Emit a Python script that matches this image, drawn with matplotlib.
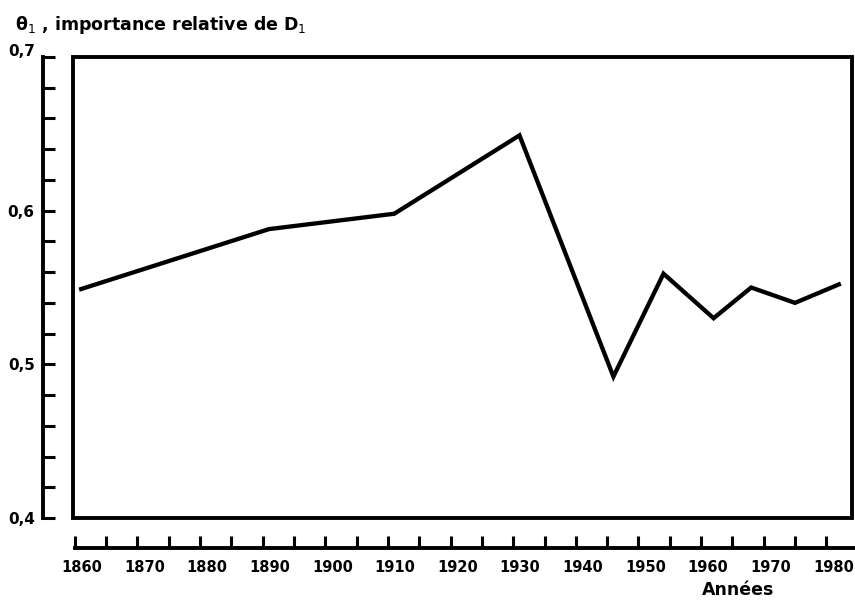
import numpy as np
import matplotlib
matplotlib.use("Agg")
from matplotlib import pyplot as plt
from matplotlib.patches import Rectangle
from matplotlib.transforms import ScaledTranslation

# recensements
annees = [1861, 1891, 1911, 1931, 1946, 1954, 1962, 1968, 1975, 1982]
theta1 = [0.549, 0.588, 0.598, 0.649, 0.492, 0.559, 0.530, 0.550, 0.540, 0.552]

xticks = [1860, 1870, 1880, 1890, 1900, 1910, 1920, 1930, 1940, 1950, 1960, 1970, 1980]
yticks = [0.4, 0.5, 0.6, 0.7]
ylabels = ["0,4", "0,5", "0,6", "0,7"]

plt.rcParams['font.family'] = ['DejaVu Sans']

fig = plt.figure(figsize=(8.55, 6.0), dpi=100)
ax = fig.add_axes([73/855, 1-518/600, (852-73)/855, (518-57)/600])

ax.plot(annees, theta1, color='black', lw=3.1, solid_joinstyle='miter')
ax.set_xlim(1859.7, 1984.1)
ax.set_ylim(0.4, 0.7)

# cadre
ax.add_patch(Rectangle((0, 0), 1, 1, transform=ax.transAxes, fill=False,
                       lw=2.8, ec='black', clip_on=False))

for s in ['top', 'right']:
    ax.spines[s].set_visible(False)
ax.spines['left'].set_position(('outward', 21.6))
ax.spines['bottom'].set_position(('outward', 21.6))
ax.spines['left'].set_linewidth(2.8)
ax.spines['bottom'].set_linewidth(2.8)
ax.spines['bottom'].set_bounds(1860, 1984.5)

ax.set_xticks(xticks)
ax.set_xticks(np.arange(1865, 1985, 10), minor=True)
ax.set_yticks(yticks)
ax.set_yticklabels(ylabels)
ax.set_yticks(np.arange(0.42, 0.7, 0.02), minor=True)

ax.tick_params(axis='both', which='both', direction='in', length=8.5, width=2.2)
ax.tick_params(axis='x', labelsize=10.5, pad=9)
ax.tick_params(axis='y', labelsize=11, pad=6)
for lab in ax.get_xticklabels() + ax.get_yticklabels():
    lab.set_fontweight('bold')
off = ScaledTranslation(5/72, 0, fig.dpi_scale_trans)
for lab in ax.get_xticklabels():
    lab.set_transform(lab.get_transform() + off)
top = ax.get_yticklabels()[-1]
top.set_transform(top.get_transform() + ScaledTranslation(0, 5/72, fig.dpi_scale_trans))

fig.text(15/855, 1-25/600, "θ$_1$ , importance relative de D$_1$",
         fontsize=12.5, fontweight='bold', va='center', ha='left')
fig.text(738/855, 1-590/600, "Années", fontsize=12.5, fontweight='bold',
         va='center', ha='center')

fig.savefig("out.png", dpi=100)
